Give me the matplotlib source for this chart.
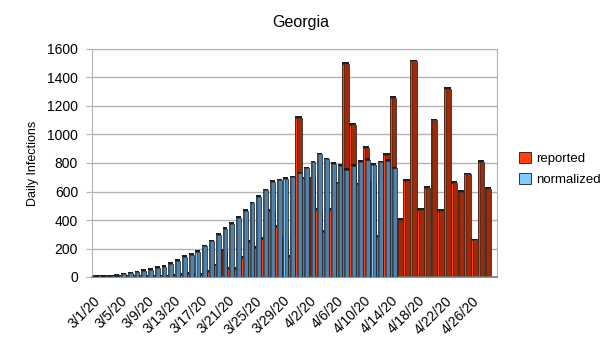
import matplotlib
matplotlib.use("Agg")
import matplotlib.pyplot as plt
from matplotlib.patches import Patch
import numpy as np

plt.rcParams['font.family'] = ['Liberation Sans', 'DejaVu Sans']

# Daily counts, 3/1/20 .. 4/28/20
dates = [f"{m}/{d}/20" for m, d in
         [(3, i) for i in range(1, 32)] + [(4, i) for i in range(1, 29)]]

reported = [0, 0, 1, 0, 2, 1, 2, 3, 2, 4, 3, 5, 6, 15, 20, 15, 15, 35, 82, 183,
            59, 59, 136, 246, 206, 270, 465, 352, 270, 141, 1115, 692, 692, 470,
            317, 470, 657, 1495, 1068, 650, 908, 657, 282, 857, 1255, 403, 676,
            1514, 470, 627, 1099, 463, 1319, 662, 599, 720, 258, 808, 617]

normalized = [0, 3, 5, 10, 18, 26, 33, 42, 52, 62, 72, 90, 115, 140, 155, 176,
              216, 251, 298, 340, 371, 415, 462, 516, 563, 608, 669, 679, 690,
              699, 728, 763, 805, 861, 826, 793, 782, 750, 779, 810, 822, 786,
              805, 815, 762]

yticks = [0, 200, 400, 600, 800, 1000, 1200, 1400, 1600]

RED_FRONT, RED_SIDE = "#ff420e", "#9e2a08"
BLUE_FRONT, BLUE_SIDE = "#83caff", "#5282aa"
CAP = "#1e1e1e"
EDGE = "#1a1a1a"

fig = plt.figure(figsize=(6.05, 3.4), dpi=100)
ax = fig.add_axes([92 / 605, 1 - 277 / 340, 405 / 605, 228 / 340])


def shaded_bars(x, vals, x_off, width, front_frac, front, side, z):
    x = np.asarray(x, dtype=float) + x_off
    vals = np.asarray(vals, dtype=float)
    ax.bar(x, vals, width, align="edge", color=side, edgecolor=EDGE,
           linewidth=0.5, zorder=z)
    ax.bar(x, vals, width * front_frac, align="edge", color=front,
           edgecolor=EDGE, linewidth=0.4, zorder=z + 0.1)
    # dark top face of each column
    ax.bar(x, np.full_like(vals, 12.0), width, bottom=vals, align="edge",
           color=CAP, linewidth=0, zorder=z + 0.2)


days = np.arange(len(reported))
shaded_bars(days, reported, 0.0, 0.97, 0.28, RED_FRONT, RED_SIDE, 2)
shaded_bars(np.arange(len(normalized)), normalized, 0.28, 0.72, 0.22,
            BLUE_FRONT, BLUE_SIDE, 3)

ax.set_xlim(0, 405 / 6.77)
ax.set_ylim(0, 1600)
ax.set_yticks(yticks)
ax.set_yticklabels([str(v) for v in yticks], fontsize=10)
ax.yaxis.grid(True, color="#b3b3b3", linewidth=1.0, zorder=0)
ax.set_axisbelow(True)
ax.tick_params(axis="y", length=4, color="#b3b3b3", pad=6)

tick_idx = list(range(0, len(dates), 4))
ax.set_xticks([i + 0.1 for i in tick_idx])
ax.set_xticklabels([dates[i] for i in tick_idx], rotation=45, ha="right",
                   rotation_mode="anchor", fontsize=10)
ax.tick_params(axis="x", length=0, pad=12)

for s in ("left", "right", "top"):
    ax.spines[s].set_color("#b3b3b3")
ax.spines["bottom"].set_color("#7a7a7a")
ax.spines["bottom"].set_linewidth(1.2)

ax.set_ylabel("Daily Infections", fontsize=9, labelpad=6)
fig.text(301 / 605, 1 - 22 / 340, "Georgia", ha="center", va="center",
         fontsize=11.5)

handles = [Patch(facecolor=RED_FRONT, edgecolor=EDGE, linewidth=0.6, label="reported"),
           Patch(facecolor=BLUE_FRONT, edgecolor=EDGE, linewidth=0.6, label="normalized")]
fig.legend(handles=handles, loc="center left", bbox_to_anchor=(0.847, 0.503),
           frameon=False, fontsize=9.5, handlelength=0.9, handleheight=0.9,
           handletextpad=0.4, borderpad=0, labelspacing=0.55)

fig.savefig("out.png", dpi=100, facecolor="white")
